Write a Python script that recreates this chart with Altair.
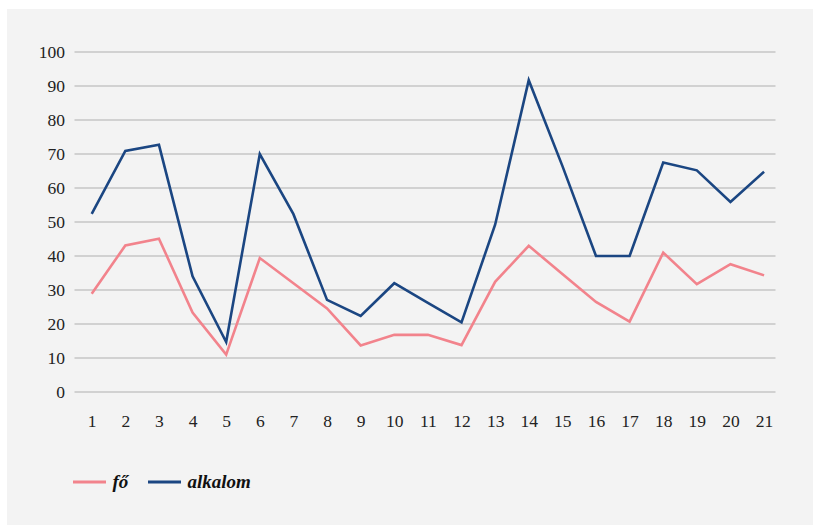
import altair as alt
import pandas as pd

x_vals = list(range(1, 22))
fo = [28.9, 43.1, 45.1, 23.4, 11.0, 39.4, 32.0, 24.6, 13.7, 16.8, 16.8, 13.8,
      32.4, 43.0, 34.7, 26.5, 20.7, 41.0, 31.7, 37.6, 34.3]
alkalom = [52.4, 70.9, 72.7, 34.0, 14.7, 70.0, 52.3, 27.1, 22.4, 32.0, 26.2, 20.5,
           49.2, 91.7, 66.5, 40.0, 40.0, 67.5, 65.2, 55.9, 64.8]
series_names = ["fő", "alkalom"]
series_colors = ["#F2838C", "#1B4682"]
y_ticks = list(range(0, 101, 10))

df = pd.DataFrame({
    "x": x_vals * 2,
    "v": fo + alkalom,
    "s": [series_names[0]] * len(fo) + [series_names[1]] * len(alkalom),
})
grid_df = pd.DataFrame({"g": y_ticks})

FONT = "Liberation Serif"
x_scale = alt.Scale(domain=[0.488, 21.34], nice=False, zero=False)
y_scale = alt.Scale(domain=[0, 100], nice=False)
y_axis = alt.Axis(values=y_ticks, grid=False, domain=False, ticks=False,
                  labelPadding=10, title=None, labelFont=FONT,
                  labelFontSize=17.5, labelColor="#222222", zindex=1)

panel = alt.Chart(pd.DataFrame({"a": [0]})).mark_rect(color="#f3f3f3").encode(
    x=alt.value(-67.5), x2=alt.value(738.5), y=alt.value(-43), y2=alt.value(480)
)

grid = alt.Chart(grid_df).mark_rule(color="#c6c6c6", strokeWidth=1.6).encode(
    y=alt.Y("g:Q", scale=y_scale, axis=y_axis),
    x=alt.value(0), x2=alt.value(701),
)

lines = alt.Chart(df).mark_line(strokeWidth=2.6).encode(
    x=alt.X("x:Q", scale=x_scale,
            axis=alt.Axis(values=x_vals, grid=False, domain=False, ticks=False,
                          labelPadding=20, title=None, labelFont=FONT,
                          labelFontSize=17.5, labelColor="#222222", zindex=1)),
    y=alt.Y("v:Q", scale=y_scale, axis=y_axis),
    color=alt.Color("s:N",
                    scale=alt.Scale(domain=series_names, range=series_colors),
                    legend=alt.Legend(orient="none", legendX=-3, legendY=412,
                                      direction="horizontal", title=None,
                                      symbolType="stroke", symbolSize=1089,
                                      symbolStrokeWidth=3, labelOffset=5,
                                      columnPadding=13)),
)

chart = alt.layer(panel, grid, lines).properties(
    width=701, height=340,
    autosize=alt.AutoSizeParams(type="none"),
    padding={"left": 74.5, "top": 52, "right": 41.5, "bottom": 133},
    background="white",
).configure_view(stroke=None).configure_legend(
    labelFont=FONT, labelFontSize=19, labelFontStyle="italic",
    labelFontWeight="bold", labelColor="#111111"
)

chart.save("out.html", embed_options={"renderer": "svg", "actions": False})
